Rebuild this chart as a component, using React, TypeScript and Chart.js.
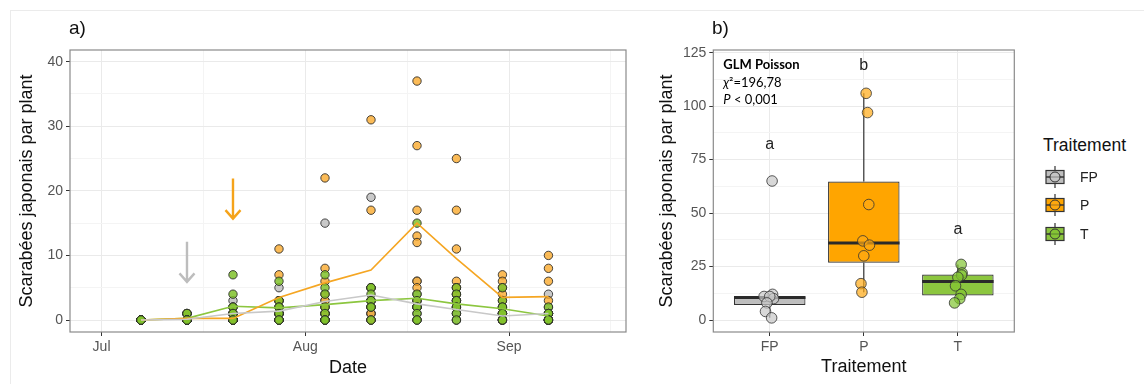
import React, { useEffect, useRef } from 'react';
import { Chart, registerables } from 'chart.js';

Chart.register(...registerables);

// ---------------- Panel a) data ----------------
// sampling dates, as days after 1 July (Jul 7 ... Sep 7)
const sampleDays = [6, 13, 20, 27, 34, 41, 48, 54, 61, 68];
const monthTickDays = [0, 31, 62];
const monthTickLabels = ['Jul', 'Aug', 'Sep'];
const minorDays = [15.5, 46.5, 77.5];
const countTicks = [0, 10, 20, 30, 40];
const countMinor = [5, 15, 25, 35];

// beetles per plant, 8 plants per treatment for each sampling date
const fpCounts = [
  [0, 0, 0, 0, 0, 0, 0, 0],
  [1, 0, 0, 0, 0, 0, 0, 0],
  [3, 2, 1, 1, 1, 0, 0, 0],
  [5, 3, 1, 1, 1, 0, 0, 0],
  [15, 3, 2, 1, 1, 1, 0, 0],
  [19, 5, 3, 2, 1, 1, 0, 0],
  [6, 4, 3, 2, 2, 2, 1, 0],
  [4, 3, 2, 2, 1, 1, 0, 0],
  [2, 1, 1, 1, 0, 0, 0, 0],
  [4, 2, 1, 1, 0, 0, 0, 0],
];
const pCounts = [
  [0, 0, 0, 0, 0, 0, 0, 0],
  [1, 1, 0, 0, 0, 0, 0, 0],
  [1, 1, 0, 0, 0, 0, 0, 0],
  [11, 7, 3, 3, 2, 1, 1, 0],
  [22, 8, 6, 4, 3, 2, 1, 0],
  [31, 17, 5, 3, 3, 2, 1, 0],
  [37, 27, 17, 13, 12, 6, 5, 3],
  [25, 17, 11, 6, 5, 5, 4, 3],
  [7, 6, 5, 4, 3, 2, 1, 0],
  [10, 8, 6, 3, 1, 1, 0, 0],
];
const tCounts = [
  [0, 0, 0, 0, 0, 0, 0, 0],
  [1, 1, 0, 0, 0, 0, 0, 0],
  [7, 4, 2, 2, 1, 1, 0, 0],
  [6, 3, 2, 2, 1, 1, 0, 0],
  [7, 5, 4, 2, 1, 0, 0, 0],
  [5, 5, 4, 3, 3, 2, 2, 0],
  [15, 4, 3, 2, 2, 1, 0, 0],
  [5, 4, 3, 3, 2, 2, 1, 0],
  [5, 3, 2, 2, 1, 1, 0, 0],
  [2, 1, 1, 1, 0, 0, 0, 0],
];

// treatment arrows (day, top value, tip value)
const arrowDays = [13, 20];
const arrowTops = [12.1, 21.9];
const arrowTips = [5.9, 15.7];

// ---------------- Panel b) data ----------------
const treatments = ['FP', 'P', 'T'];
const fpTotals = [65, 12, 11, 10, 11, 8, 4, 1];
const pTotals = [106, 97, 54, 37, 35, 30, 17, 13];
const tTotals = [26, 22, 21, 20, 16, 12, 10, 8];
const fpJitter = [0.025, 0.03, -0.06, 0.04, 0.0, -0.03, -0.045, 0.02];
const pJitter = [0.025, 0.04, 0.053, -0.01, 0.06, 0.0, -0.03, -0.02];
const tJitter = [0.035, 0.045, 0.04, 0.0, -0.025, 0.035, 0.02, -0.035];
const letters = ['a', 'b', 'a'];
const letterY = [82, 119, 42.5];
const totalTicks = [0, 25, 50, 75, 100, 125];
const totalMinor = [12.5, 37.5, 62.5, 87.5, 112.5];

// ---------------- styles ----------------
const FONT = '"Liberation Sans", Arial, Helvetica, sans-serif';
const ANNOT_FONT = 'Lato, "Open Sans", sans-serif';
const lineColors = ['#C8C8C8', '#F5A623', '#8CC63F'];
const pointColors = ['rgba(192,192,192,0.85)', 'rgba(250,168,40,0.78)', 'rgba(128,194,44,0.85)'];
const boxColors = ['#BEBEBE', '#FFA500', '#8CC63F'];
const boxPointColors = ['rgba(200,200,200,0.7)', 'rgba(255,170,20,0.7)', 'rgba(130,196,50,0.7)'];
const arrowColors = ['#BDBDBD', '#F5A31A'];
const MAJOR_GRID = '#EAEAEA';
const MINOR_GRID = '#F4F4F4';
const TICK_TEXT = '#555555';
const BORDER = '#8A8A8A';

const mean = (a: number[]) => a.reduce((s, v) => s + v, 0) / a.length;

function quantile(values: number[], p: number) {
  const s = [...values].sort((a, b) => a - b);
  const h = (s.length - 1) * p;
  const lo = Math.floor(h);
  const hi = Math.min(lo + 1, s.length - 1);
  return s[lo] + (h - lo) * (s[hi] - s[lo]);
}

function boxStats(values: number[]) {
  const q1 = quantile(values, 0.25);
  const med = quantile(values, 0.5);
  const q3 = quantile(values, 0.75);
  const iqr = q3 - q1;
  const inside = values.filter((v) => v >= q1 - 1.5 * iqr && v <= q3 + 1.5 * iqr);
  return { q1, med, q3, lo: Math.min(...inside), hi: Math.max(...inside) };
}

const borderPlugin = {
  id: 'panelBorder',
  afterDraw(chart: any) {
    const { ctx, chartArea: a } = chart;
    ctx.save();
    ctx.strokeStyle = BORDER;
    ctx.lineWidth = 1.2;
    ctx.strokeRect(a.left, a.top, a.right - a.left, a.bottom - a.top);
    ctx.restore();
  },
};

const arrowPlugin = {
  id: 'arrows',
  afterDatasetsDraw(chart: any) {
    const { ctx, scales } = chart;
    arrowDays.forEach((d, i) => {
      const x = scales.x.getPixelForValue(d);
      const y0 = scales.y.getPixelForValue(arrowTops[i]);
      const y1 = scales.y.getPixelForValue(arrowTips[i]);
      ctx.save();
      ctx.strokeStyle = arrowColors[i];
      ctx.lineWidth = 2.4;
      ctx.lineCap = 'butt';
      ctx.beginPath();
      ctx.moveTo(x, y0);
      ctx.lineTo(x, y1 - 1);
      ctx.moveTo(x - 7.5, y1 - 8.5);
      ctx.lineTo(x, y1);
      ctx.lineTo(x + 7.5, y1 - 8.5);
      ctx.stroke();
      ctx.restore();
    });
  },
};

const stats = [fpTotals, pTotals, tTotals].map(boxStats);

const boxPlugin = {
  id: 'boxExtras',
  afterDatasetDraw(chart: any, args: any) {
    if (args.index !== 0) return;
    const { ctx } = chart;
    const y = chart.scales.y;
    args.meta.data.forEach((bar: any, i: number) => {
      const s = stats[i];
      const x = bar.x;
      const w = bar.width;
      ctx.save();
      ctx.strokeStyle = '#333333';
      ctx.lineWidth = 1.2;
      ctx.beginPath();
      ctx.moveTo(x, y.getPixelForValue(s.q3));
      ctx.lineTo(x, y.getPixelForValue(s.hi));
      ctx.moveTo(x, y.getPixelForValue(s.q1));
      ctx.lineTo(x, y.getPixelForValue(s.lo));
      ctx.stroke();
      ctx.lineWidth = 2.8;
      ctx.strokeStyle = '#2A2A2A';
      const ym = y.getPixelForValue(s.med);
      ctx.beginPath();
      ctx.moveTo(x - w / 2, ym);
      ctx.lineTo(x + w / 2, ym);
      ctx.stroke();
      ctx.restore();
    });
  },
  afterDatasetsDraw(chart: any) {
    const { ctx, scales, chartArea: a } = chart;
    ctx.save();
    ctx.fillStyle = '#222222';
    ctx.font = `16px ${FONT}`;
    ctx.textAlign = 'center';
    ctx.textBaseline = 'middle';
    letters.forEach((l, i) => {
      ctx.fillText(l, scales.x.getPixelForValue(i + 1), scales.y.getPixelForValue(letterY[i]));
    });
    // GLM annotation
    const x0 = a.left + 10;
    ctx.textAlign = 'left';
    ctx.fillStyle = '#000000';
    ctx.font = `bold 13px ${ANNOT_FONT}`;
    ctx.fillText('GLM Poisson', x0, a.top + 14.5);
    ctx.font = `italic 13px ${ANNOT_FONT}`;
    ctx.fillText('χ', x0, a.top + 32.5);
    let w = ctx.measureText('χ').width;
    ctx.font = `13px ${ANNOT_FONT}`;
    ctx.fillText('²=196,78', x0 + w, a.top + 32.5);
    ctx.font = `italic 13px ${ANNOT_FONT}`;
    ctx.fillText('P', x0, a.top + 50);
    w = ctx.measureText('P').width;
    ctx.font = `13px ${ANNOT_FONT}`;
    ctx.fillText(' < 0,001', x0 + w, a.top + 50);
    ctx.restore();
  },
};

function axisCommon(extra: any) {
  return {
    type: 'linear',
    bounds: 'data',
    border: { display: false },
    ...extra,
  };
}

export default function App() {
  const refA = useRef<HTMLCanvasElement>(null);
  const refB = useRef<HTMLCanvasElement>(null);

  useEffect(() => {
    const groups = [fpCounts, pCounts, tCounts];

    const lineSets = groups.map((g, gi) => ({
      type: 'line',
      data: sampleDays.map((d, i) => ({ x: d, y: mean(g[i]) })),
      borderColor: lineColors[gi],
      borderWidth: 1.6,
      pointRadius: 0,
      fill: false,
      tension: 0,
      order: 0,
    }));
    const pointSets = groups.map((g, gi) => ({
      type: 'scatter',
      data: sampleDays.flatMap((d, i) => g[i].map((v) => ({ x: d, y: v }))),
      backgroundColor: pointColors[gi],
      borderColor: 'rgba(40,40,40,0.85)',
      borderWidth: 1,
      pointRadius: 4.2,
      order: 3 - gi,
    }));

    const tickFont = { family: FONT, size: 14 };
    const titleFont = { family: FONT, size: 18 };

    const chartA = new Chart(refA.current as HTMLCanvasElement, {
      type: 'scatter',
      data: { datasets: [...lineSets, ...pointSets] as any },
      options: {
        animation: false,
        responsive: false,
        devicePixelRatio: 1,
        events: [],
        layout: { padding: { top: 50, right: 24, bottom: 0, left: 0 } },
        plugins: { legend: { display: false }, tooltip: { enabled: false } },
        scales: {
          x: axisCommon({
            min: -4.8,
            max: 79.8,
            afterBuildTicks: (s: any) => {
              s.ticks = [...monthTickDays, ...minorDays].sort((a, b) => a - b).map((v) => ({ value: v }));
            },
            afterFit: (s: any) => {
              s.height = 52;
            },
            ticks: {
              autoSkip: false,
              maxRotation: 0,
              padding: 3,
              color: TICK_TEXT,
              font: tickFont,
              callback: (v: any) => {
                const i = monthTickDays.indexOf(Number(v));
                return i >= 0 ? monthTickLabels[i] : '';
              },
            },
            grid: {
              color: (c: any) => (monthTickDays.includes(c.tick?.value) ? MAJOR_GRID : MINOR_GRID),
              lineWidth: 1,
              tickLength: 4,
              tickColor: (c: any) => (monthTickDays.includes(c.tick?.value) ? '#333333' : 'rgba(0,0,0,0)'),
            },
            title: { display: true, text: 'Date', color: '#111111', font: titleFont, padding: { top: 0, bottom: 5.5 } },
          }),
          y: axisCommon({
            min: -1.858,
            max: 41.81,
            afterBuildTicks: (s: any) => {
              s.ticks = [...countTicks, ...countMinor].sort((a, b) => a - b).map((v) => ({ value: v }));
            },
            afterFit: (s: any) => {
              s.width = 70;
            },
            ticks: {
              autoSkip: false,
              padding: 3,
              color: TICK_TEXT,
              font: tickFont,
              callback: (v: any) => (countTicks.includes(Number(v)) ? String(v) : ''),
            },
            grid: {
              color: (c: any) => (countTicks.includes(c.tick?.value) ? MAJOR_GRID : MINOR_GRID),
              lineWidth: 1,
              tickLength: 4,
              tickColor: (c: any) => (countTicks.includes(c.tick?.value) ? '#333333' : 'rgba(0,0,0,0)'),
            },
            title: {
              display: true,
              text: 'Scarabées japonais par plant',
              color: '#111111',
              font: titleFont,
              padding: { top: 16.2, bottom: 0 },
            },
          }),
        },
      } as any,
      plugins: [arrowPlugin, borderPlugin],
    });

    const totals = [fpTotals, pTotals, tTotals];
    const jitters = [fpJitter, pJitter, tJitter];
    const boxSet = {
      type: 'bar',
      data: stats.map((s, i) => ({ x: i + 1, y: [s.q1, s.q3] })),
      backgroundColor: boxColors,
      borderColor: '#333333',
      borderWidth: 1.2,
      borderSkipped: false,
      barPercentage: 0.76,
      categoryPercentage: 1,
      order: 1,
    };
    const boxPoints = totals.map((vals, gi) => ({
      type: 'scatter',
      data: vals.map((v, k) => ({ x: gi + 1 + jitters[gi][k], y: v })),
      backgroundColor: boxPointColors[gi],
      borderColor: 'rgba(50,50,50,0.8)',
      borderWidth: 1,
      pointRadius: 5.3,
      order: 0,
    }));

    const chartB = new Chart(refB.current as HTMLCanvasElement, {
      type: 'scatter',
      data: { datasets: [boxSet, ...boxPoints] as any },
      options: {
        animation: false,
        responsive: false,
        devicePixelRatio: 1,
        events: [],
        layout: { padding: { top: 50, right: 25.7, bottom: 0, left: 0 } },
        plugins: { legend: { display: false }, tooltip: { enabled: false } },
        scales: {
          x: axisCommon({
            min: 0.4,
            max: 3.6,
            offset: false,
            afterBuildTicks: (s: any) => {
              s.ticks = treatments.map((_, i) => ({ value: i + 1 }));
            },
            afterFit: (s: any) => {
              s.height = 52;
            },
            ticks: {
              autoSkip: false,
              maxRotation: 0,
              padding: 3,
              color: TICK_TEXT,
              font: tickFont,
              callback: (v: any) => treatments[Math.round(Number(v)) - 1] ?? '',
            },
            grid: {
              offset: false,
              color: MAJOR_GRID,
              lineWidth: 1,
              tickLength: 4,
              tickColor: '#333333',
            },
            title: { display: true, text: 'Traitement', color: '#111111', font: titleFont, padding: { top: 0, bottom: 6.5 } },
          }),
          y: axisCommon({
            min: -5.61,
            max: 126.26,
            afterBuildTicks: (s: any) => {
              s.ticks = [...totalTicks, ...totalMinor].sort((a, b) => a - b).map((v) => ({ value: v }));
            },
            afterFit: (s: any) => {
              s.width = 73.3;
            },
            ticks: {
              autoSkip: false,
              padding: 3,
              color: TICK_TEXT,
              font: tickFont,
              callback: (v: any) => (totalTicks.includes(Number(v)) ? String(v) : ''),
            },
            grid: {
              color: (c: any) => (totalTicks.includes(c.tick?.value) ? MAJOR_GRID : MINOR_GRID),
              lineWidth: 1,
              tickLength: 4,
              tickColor: (c: any) => (totalTicks.includes(c.tick?.value) ? '#333333' : 'rgba(0,0,0,0)'),
            },
            title: {
              display: true,
              text: 'Scarabées japonais par plant',
              color: '#111111',
              font: titleFont,
              padding: { top: 15.9, bottom: 0 },
            },
          }),
        },
      } as any,
      plugins: [boxPlugin, borderPlugin],
    });

    return () => {
      chartA.destroy();
      chartB.destroy();
    };
  }, []);

  const legendTops = [176.8, 205.4, 234];

  return (
    <div
      style={{
        position: 'absolute',
        left: 0,
        top: 0,
        width: 1144,
        height: 384,
        background: '#ffffff',
        overflow: 'hidden',
        fontFamily: FONT,
      }}
    >
      <div
        style={{
          position: 'absolute',
          left: 10,
          top: 10,
          width: 1140,
          height: 380,
          borderTop: '1.5px solid #EBEBEB',
          borderLeft: '1.5px solid #EBEBEB',
        }}
      />
      <canvas ref={refA} width={650} height={384} style={{ position: 'absolute', left: 0, top: 0 }} />
      <canvas ref={refB} width={400} height={384} style={{ position: 'absolute', left: 640, top: 0 }} />
      <div style={{ position: 'absolute', left: 69, top: 17.3, fontSize: 19, lineHeight: '22px', color: '#111' }}>a)</div>
      <div style={{ position: 'absolute', left: 712, top: 17.3, fontSize: 19, lineHeight: '22px', color: '#111' }}>b)</div>
      <div style={{ position: 'absolute', left: 1043, top: 134.7, fontSize: 17.5, lineHeight: '20px', color: '#111' }}>
        Traitement
      </div>
      {treatments.map((t, i) => (
        <div
          key={t}
          style={{ position: 'absolute', left: 1043, top: legendTops[i] - 13, height: 26, display: 'flex', alignItems: 'center' }}
        >
          <svg width={24} height={26}>
            <line x1={12} y1={2} x2={12} y2={24} stroke="#333" strokeWidth={1.2} />
            <rect x={3} y={6.5} width={18} height={13} fill={boxColors[i]} stroke="#333" strokeWidth={1.2} />
            <line x1={3} y1={13} x2={21} y2={13} stroke="#333" strokeWidth={1.5} />
            <circle cx={12} cy={13} r={5} fill={boxPointColors[i]} stroke="#333" strokeWidth={1} />
          </svg>
          <span style={{ marginLeft: 13, fontSize: 14, color: '#222', lineHeight: '16px' }}>{t}</span>
        </div>
      ))}
    </div>
  );
}
